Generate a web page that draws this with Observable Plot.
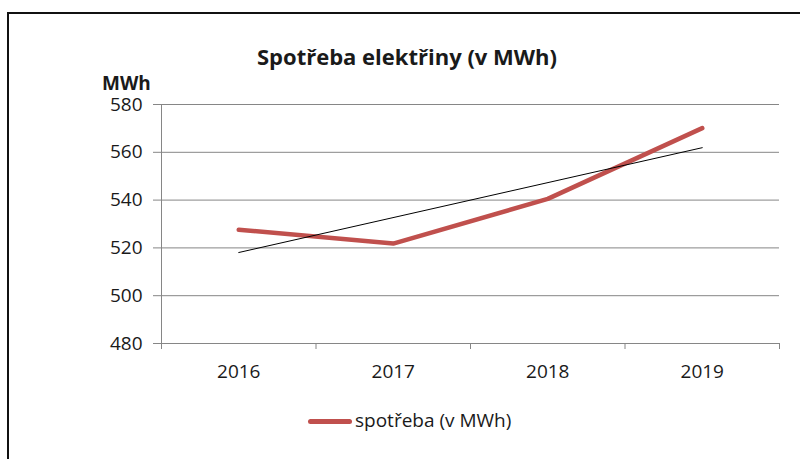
<!DOCTYPE html>
<html>
<head>
<meta charset="utf-8">
<script src="https://cdn.jsdelivr.net/npm/d3@7"></script>
<script src="https://cdn.jsdelivr.net/npm/@observablehq/plot@0.6"></script>
<style>
  html, body { margin: 0; padding: 0; background: #fff; }
  #wrap { position: relative; width: 800px; height: 459px; overflow: hidden; font-family: "Open Sans", sans-serif; color: #1a1a1a; }
  #frame { position: absolute; left: 7px; top: 12px; width: 800px; height: 460px; border-left: 2px solid #111; border-top: 2px solid #111; }
  #chart { position: absolute; left: 0; top: 0; }
  #title { position: absolute; left: 407px; top: 41px; transform: translateX(-50%); font-size: 22px; font-weight: bold; white-space: nowrap; }
  #unit { position: absolute; left: 102px; top: 76px; font-size: 19px; line-height: 15px; font-weight: bold; }
  #legend-line { position: absolute; left: 308px; top: 419px; width: 44px; height: 5px; border-radius: 3px; background: #C0504D; }
  #legend-text { position: absolute; left: 355px; top: 407px; font-size: 19px; white-space: nowrap; }
</style>
</head>
<body>
<div id="wrap">
  <div id="chart"></div>
  <div id="frame"></div>
  <div id="title">Spotřeba elektřiny (v MWh)</div>
  <div id="unit">MWh</div>
  <div id="legend-line"></div>
  <div id="legend-text">spotřeba (v MWh)</div>
</div>
<script>
const years = [2016, 2017, 2018, 2019];
const consumption = [527.6, 521.8, 540.5, 570.1];
const yTicks = [480, 500, 520, 540, 560, 580];
const yDomain = [480, 580];
const xDomain = [2015.5, 2019.5];
const xBoundaries = [2015.5, 2016.5, 2017.5, 2018.5, 2019.5];

const data = years.map((year, i) => ({year, value: consumption[i]}));
const gridColor = "#868686";
const red = "#C0504D";

const chart = Plot.plot({
  width: 800,
  height: 459,
  marginLeft: 161,
  marginRight: 21,
  marginTop: 104,
  marginBottom: 116,
  style: {fontFamily: "Open Sans, sans-serif", fontSize: "19px", color: "#1a1a1a", background: "transparent"},
  x: {domain: xDomain, label: null},
  y: {domain: yDomain, label: null},
  marks: [
    Plot.gridY(yTicks, {stroke: gridColor, strokeOpacity: 1}),
    Plot.axisY(yTicks, {tickSize: 8, tickPadding: 11, stroke: gridColor, fontSize: 19, tickFormat: d => String(d)}),
    Plot.axisX(xBoundaries, {tickSize: 6, stroke: gridColor, tickFormat: () => ""}),
    Plot.axisX(years, {tickSize: 0, tickPadding: 21, fontSize: 19, tickFormat: d => String(d)}),
    Plot.ruleY([yDomain[0]], {stroke: gridColor}),
    Plot.ruleX([xDomain[0]], {stroke: gridColor}),
    Plot.line(data, {x: "year", y: "value", stroke: red, strokeWidth: 4.5}),
    Plot.linearRegressionY(data, {x: "year", y: "value", stroke: "#000", strokeWidth: 1, ci: 0})
  ]
});
document.getElementById("chart").appendChild(chart);
</script>
</body>
</html>
